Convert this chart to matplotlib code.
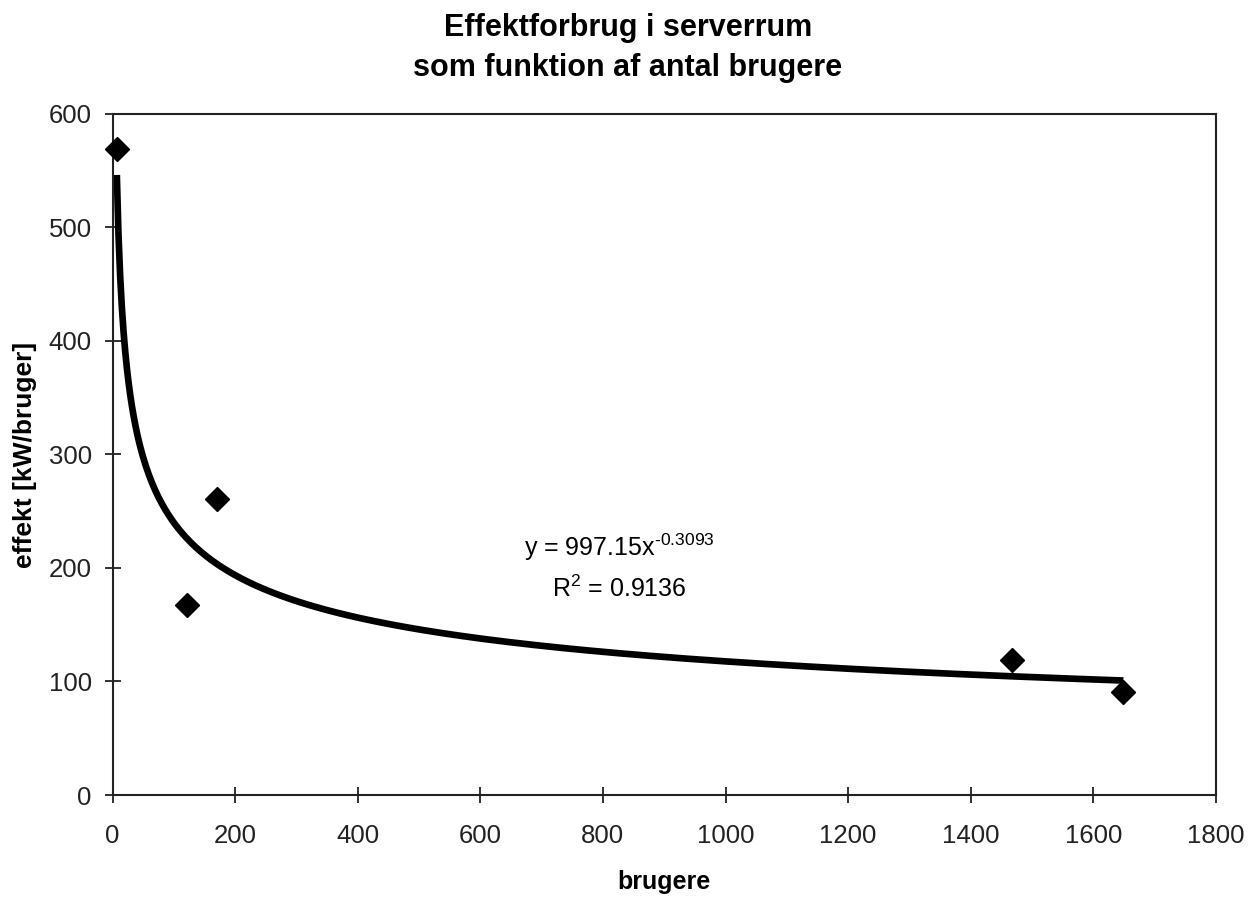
import numpy as np
import matplotlib
matplotlib.use("Agg")
from matplotlib import pyplot as plt

plt.rcParams["font.family"] = ["Liberation Sans", "DejaVu Sans"]
plt.rcParams["mathtext.fontset"] = "custom"
plt.rcParams["mathtext.rm"] = "Liberation Sans"
plt.rcParams["axes.unicode_minus"] = False

# measured points
brugere = [7, 121, 171, 1468, 1649]
effekt = [569, 167, 261, 119, 91]

# power trendline as shown on the chart: y = a * x^b
coef_a = 997.15
coef_b = -0.3093
r_squared = 0.9136

x_ticks = [0, 200, 400, 600, 800, 1000, 1200, 1400, 1600, 1800]
y_ticks = [0, 100, 200, 300, 400, 500, 600]

fig = plt.figure(figsize=(12.56, 8.97), dpi=100)
ax = fig.add_axes([0.0896, 0.1137, 0.8785, 0.7593])

# trendline across the range of the data
xs = np.linspace(min(brugere), max(brugere), 600)
ax.plot(xs, coef_a * xs ** coef_b, color="black", linewidth=4.8, solid_capstyle="butt", zorder=2)
ax.plot(brugere, effekt, linestyle="none", marker="D", markersize=12,
        color="black", zorder=3, clip_on=False)

ax.text(827, 218, "y = 997.15x$^{\\text{-0.3093}}$", ha="center", va="center", fontsize=18)
ax.text(827, 182, "R$^{\\text{2}}$ = %.4f" % r_squared, ha="center", va="center", fontsize=18)

ax.set_xlim(0, 1800)
ax.set_ylim(0, 600)
ax.set_xticks(x_ticks)
ax.set_yticks(y_ticks)
ax.tick_params(direction="inout", length=12, width=1.3, labelsize=18.5, colors="#222222")
ax.tick_params(axis="x", pad=15)
ax.tick_params(axis="y", pad=9)
for s in ax.spines.values():
    s.set_linewidth(1.5)
    s.set_color("#222222")

ax.set_xlabel("brugere", fontsize=18, fontweight="bold", labelpad=16)
ax.set_ylabel("effekt [kW/bruger]", fontsize=19, fontweight="bold", labelpad=8)
fig.suptitle("Effektforbrug i serverrum\nsom funktion af antal brugere",
             fontsize=22, fontweight="bold", y=0.985, linespacing=1.4)

fig.savefig("out.png", dpi=100)
